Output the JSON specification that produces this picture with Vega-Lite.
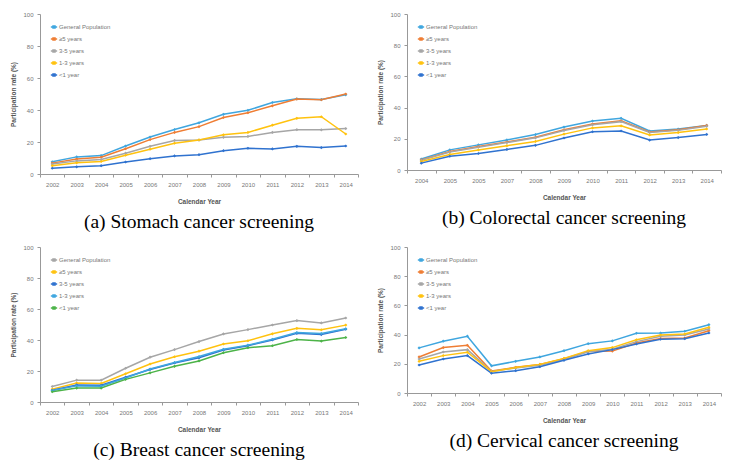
{
  "$schema": "https://vega.github.io/schema/vega-lite/v6.json",
  "background": "white",
  "padding": {"left": 10, "top": 11, "right": 8, "bottom": 4},
  "spacing": 13,
  "config": {
    "font": "Liberation Sans",
    "view": {"stroke": null},
    "concat": {"spacing": 18},
    "axis": {
      "labelFont": "Liberation Sans", "labelFontSize": 6, "labelColor": "#777777",
      "titleFont": "Liberation Sans", "titleFontSize": 6.5, "titleColor": "#555555", "titleFontWeight": "bold",
      "domainColor": "#999999", "tickColor": "#999999", "tickSize": 3, "grid": false, "labelPadding": 4
    },
    "axisX": {"labelAngle": 0, "tickBand": "extent", "titlePadding": 11},
    "axisY": {"titlePadding": 6},
    "legend": {
      "orient": "none", "legendX": 10, "legendY": 9, "title": null,
      "labelFontSize": 6, "labelColor": "#777777", "labelFont": "Liberation Sans",
      "rowPadding": 4, "labelOffset": 1, "symbolOffset": 0
    },
    "title": {"font": "Liberation Serif", "fontSize": 19.5, "fontWeight": "normal", "color": "#000000", "orient": "bottom", "offset": 8}
  },
  "datasets": {
    "stomach": [
      {"year": 2002, "group": "General Population", "rate": 7.6}, {"year": 2003, "group": "General Population", "rate": 10.7}, {"year": 2004, "group": "General Population", "rate": 11.5}, {"year": 2005, "group": "General Population", "rate": 17.5}, {"year": 2006, "group": "General Population", "rate": 23.1}, {"year": 2007, "group": "General Population", "rate": 27.8}, {"year": 2008, "group": "General Population", "rate": 32.0}, {"year": 2009, "group": "General Population", "rate": 37.3}, {"year": 2010, "group": "General Population", "rate": 39.8}, {"year": 2011, "group": "General Population", "rate": 44.7}, {"year": 2012, "group": "General Population", "rate": 47.0}, {"year": 2013, "group": "General Population", "rate": 46.5}, {"year": 2014, "group": "General Population", "rate": 49.5},
      {"year": 2002, "group": "≥5 years", "rate": 6.8}, {"year": 2003, "group": "≥5 years", "rate": 9.3}, {"year": 2004, "group": "≥5 years", "rate": 10.5}, {"year": 2005, "group": "≥5 years", "rate": 15.8}, {"year": 2006, "group": "≥5 years", "rate": 21.5}, {"year": 2007, "group": "≥5 years", "rate": 26.0}, {"year": 2008, "group": "≥5 years", "rate": 29.6}, {"year": 2009, "group": "≥5 years", "rate": 35.3}, {"year": 2010, "group": "≥5 years", "rate": 38.3}, {"year": 2011, "group": "≥5 years", "rate": 42.6}, {"year": 2012, "group": "≥5 years", "rate": 46.8}, {"year": 2013, "group": "≥5 years", "rate": 46.4}, {"year": 2014, "group": "≥5 years", "rate": 50.0},
      {"year": 2002, "group": "3-5 years", "rate": 6.2}, {"year": 2003, "group": "3-5 years", "rate": 8.2}, {"year": 2004, "group": "3-5 years", "rate": 9.0}, {"year": 2005, "group": "3-5 years", "rate": 13.0}, {"year": 2006, "group": "3-5 years", "rate": 17.3}, {"year": 2007, "group": "3-5 years", "rate": 21.0}, {"year": 2008, "group": "3-5 years", "rate": 21.2}, {"year": 2009, "group": "3-5 years", "rate": 22.9}, {"year": 2010, "group": "3-5 years", "rate": 23.5}, {"year": 2011, "group": "3-5 years", "rate": 26.0}, {"year": 2012, "group": "3-5 years", "rate": 27.7}, {"year": 2013, "group": "3-5 years", "rate": 27.6}, {"year": 2014, "group": "3-5 years", "rate": 28.4},
      {"year": 2002, "group": "1-3 years", "rate": 5.2}, {"year": 2003, "group": "1-3 years", "rate": 7.0}, {"year": 2004, "group": "1-3 years", "rate": 7.8}, {"year": 2005, "group": "1-3 years", "rate": 11.7}, {"year": 2006, "group": "1-3 years", "rate": 15.5}, {"year": 2007, "group": "1-3 years", "rate": 19.2}, {"year": 2008, "group": "1-3 years", "rate": 21.3}, {"year": 2009, "group": "1-3 years", "rate": 24.5}, {"year": 2010, "group": "1-3 years", "rate": 26.0}, {"year": 2011, "group": "1-3 years", "rate": 30.5}, {"year": 2012, "group": "1-3 years", "rate": 34.8}, {"year": 2013, "group": "1-3 years", "rate": 35.8}, {"year": 2014, "group": "1-3 years", "rate": 25.0},
      {"year": 2002, "group": "<1 year", "rate": 3.6}, {"year": 2003, "group": "<1 year", "rate": 4.5}, {"year": 2004, "group": "<1 year", "rate": 5.2}, {"year": 2005, "group": "<1 year", "rate": 7.5}, {"year": 2006, "group": "<1 year", "rate": 9.6}, {"year": 2007, "group": "<1 year", "rate": 11.3}, {"year": 2008, "group": "<1 year", "rate": 12.1}, {"year": 2009, "group": "<1 year", "rate": 14.6}, {"year": 2010, "group": "<1 year", "rate": 16.1}, {"year": 2011, "group": "<1 year", "rate": 15.7}, {"year": 2012, "group": "<1 year", "rate": 17.3}, {"year": 2013, "group": "<1 year", "rate": 16.5}, {"year": 2014, "group": "<1 year", "rate": 17.5}
    ],
    "colorectal": [
      {"year": 2004, "group": "General Population", "rate": 7.0}, {"year": 2005, "group": "General Population", "rate": 12.9}, {"year": 2006, "group": "General Population", "rate": 16.1}, {"year": 2007, "group": "General Population", "rate": 19.3}, {"year": 2008, "group": "General Population", "rate": 22.7}, {"year": 2009, "group": "General Population", "rate": 27.5}, {"year": 2010, "group": "General Population", "rate": 31.4}, {"year": 2011, "group": "General Population", "rate": 33.1}, {"year": 2012, "group": "General Population", "rate": 25.0}, {"year": 2013, "group": "General Population", "rate": 26.3}, {"year": 2014, "group": "General Population", "rate": 28.6},
      {"year": 2004, "group": "≥5 years", "rate": 6.5}, {"year": 2005, "group": "≥5 years", "rate": 11.9}, {"year": 2006, "group": "≥5 years", "rate": 15.0}, {"year": 2007, "group": "≥5 years", "rate": 18.0}, {"year": 2008, "group": "≥5 years", "rate": 21.0}, {"year": 2009, "group": "≥5 years", "rate": 25.8}, {"year": 2010, "group": "≥5 years", "rate": 29.5}, {"year": 2011, "group": "≥5 years", "rate": 31.5}, {"year": 2012, "group": "≥5 years", "rate": 24.4}, {"year": 2013, "group": "≥5 years", "rate": 25.8}, {"year": 2014, "group": "≥5 years", "rate": 28.6},
      {"year": 2004, "group": "3-5 years", "rate": 6.2}, {"year": 2005, "group": "3-5 years", "rate": 11.5}, {"year": 2006, "group": "3-5 years", "rate": 14.6}, {"year": 2007, "group": "3-5 years", "rate": 17.6}, {"year": 2008, "group": "3-5 years", "rate": 20.6}, {"year": 2009, "group": "3-5 years", "rate": 25.3}, {"year": 2010, "group": "3-5 years", "rate": 29.0}, {"year": 2011, "group": "3-5 years", "rate": 31.0}, {"year": 2012, "group": "3-5 years", "rate": 24.1}, {"year": 2013, "group": "3-5 years", "rate": 25.4}, {"year": 2014, "group": "3-5 years", "rate": 28.0},
      {"year": 2004, "group": "1-3 years", "rate": 5.5}, {"year": 2005, "group": "1-3 years", "rate": 10.0}, {"year": 2006, "group": "1-3 years", "rate": 12.8}, {"year": 2007, "group": "1-3 years", "rate": 15.6}, {"year": 2008, "group": "1-3 years", "rate": 18.3}, {"year": 2009, "group": "1-3 years", "rate": 23.0}, {"year": 2010, "group": "1-3 years", "rate": 27.0}, {"year": 2011, "group": "1-3 years", "rate": 28.3}, {"year": 2012, "group": "1-3 years", "rate": 22.5}, {"year": 2013, "group": "1-3 years", "rate": 24.0}, {"year": 2014, "group": "1-3 years", "rate": 26.3},
      {"year": 2004, "group": "<1 year", "rate": 4.4}, {"year": 2005, "group": "<1 year", "rate": 8.8}, {"year": 2006, "group": "<1 year", "rate": 10.6}, {"year": 2007, "group": "<1 year", "rate": 13.2}, {"year": 2008, "group": "<1 year", "rate": 15.8}, {"year": 2009, "group": "<1 year", "rate": 20.5}, {"year": 2010, "group": "<1 year", "rate": 24.5}, {"year": 2011, "group": "<1 year", "rate": 25.0}, {"year": 2012, "group": "<1 year", "rate": 19.2}, {"year": 2013, "group": "<1 year", "rate": 20.8}, {"year": 2014, "group": "<1 year", "rate": 22.8}
    ],
    "breast": [
      {"year": 2002, "group": "General Population", "rate": 10.0}, {"year": 2003, "group": "General Population", "rate": 14.1}, {"year": 2004, "group": "General Population", "rate": 14.1}, {"year": 2005, "group": "General Population", "rate": 21.8}, {"year": 2006, "group": "General Population", "rate": 28.9}, {"year": 2007, "group": "General Population", "rate": 33.8}, {"year": 2008, "group": "General Population", "rate": 39.0}, {"year": 2009, "group": "General Population", "rate": 43.9}, {"year": 2010, "group": "General Population", "rate": 46.7}, {"year": 2011, "group": "General Population", "rate": 49.7}, {"year": 2012, "group": "General Population", "rate": 52.5}, {"year": 2013, "group": "General Population", "rate": 51.0}, {"year": 2014, "group": "General Population", "rate": 54.2},
      {"year": 2002, "group": "≥5 years", "rate": 8.3}, {"year": 2003, "group": "≥5 years", "rate": 12.2}, {"year": 2004, "group": "≥5 years", "rate": 12.0}, {"year": 2005, "group": "≥5 years", "rate": 18.2}, {"year": 2006, "group": "≥5 years", "rate": 24.5}, {"year": 2007, "group": "≥5 years", "rate": 29.2}, {"year": 2008, "group": "≥5 years", "rate": 32.8}, {"year": 2009, "group": "≥5 years", "rate": 37.4}, {"year": 2010, "group": "≥5 years", "rate": 39.5}, {"year": 2011, "group": "≥5 years", "rate": 44.0}, {"year": 2012, "group": "≥5 years", "rate": 47.5}, {"year": 2013, "group": "≥5 years", "rate": 46.6}, {"year": 2014, "group": "≥5 years", "rate": 49.6},
      {"year": 2002, "group": "3-5 years", "rate": 7.6}, {"year": 2003, "group": "3-5 years", "rate": 11.0}, {"year": 2004, "group": "3-5 years", "rate": 10.8}, {"year": 2005, "group": "3-5 years", "rate": 16.0}, {"year": 2006, "group": "3-5 years", "rate": 21.0}, {"year": 2007, "group": "3-5 years", "rate": 25.2}, {"year": 2008, "group": "3-5 years", "rate": 28.5}, {"year": 2009, "group": "3-5 years", "rate": 33.5}, {"year": 2010, "group": "3-5 years", "rate": 36.3}, {"year": 2011, "group": "3-5 years", "rate": 40.0}, {"year": 2012, "group": "3-5 years", "rate": 44.3}, {"year": 2013, "group": "3-5 years", "rate": 43.5}, {"year": 2014, "group": "3-5 years", "rate": 47.0},
      {"year": 2002, "group": "1-3 years", "rate": 7.4}, {"year": 2003, "group": "1-3 years", "rate": 10.4}, {"year": 2004, "group": "1-3 years", "rate": 10.2}, {"year": 2005, "group": "1-3 years", "rate": 15.5}, {"year": 2006, "group": "1-3 years", "rate": 21.3}, {"year": 2007, "group": "1-3 years", "rate": 25.5}, {"year": 2008, "group": "1-3 years", "rate": 29.3}, {"year": 2009, "group": "1-3 years", "rate": 34.0}, {"year": 2010, "group": "1-3 years", "rate": 36.7}, {"year": 2011, "group": "1-3 years", "rate": 40.5}, {"year": 2012, "group": "1-3 years", "rate": 44.8}, {"year": 2013, "group": "1-3 years", "rate": 44.2}, {"year": 2014, "group": "1-3 years", "rate": 47.2},
      {"year": 2002, "group": "<1 year", "rate": 6.6}, {"year": 2003, "group": "<1 year", "rate": 9.0}, {"year": 2004, "group": "<1 year", "rate": 9.0}, {"year": 2005, "group": "<1 year", "rate": 14.6}, {"year": 2006, "group": "<1 year", "rate": 18.8}, {"year": 2007, "group": "<1 year", "rate": 23.0}, {"year": 2008, "group": "<1 year", "rate": 26.5}, {"year": 2009, "group": "<1 year", "rate": 31.8}, {"year": 2010, "group": "<1 year", "rate": 35.0}, {"year": 2011, "group": "<1 year", "rate": 36.3}, {"year": 2012, "group": "<1 year", "rate": 40.3}, {"year": 2013, "group": "<1 year", "rate": 39.3}, {"year": 2014, "group": "<1 year", "rate": 41.6}
    ],
    "cervical": [
      {"year": 2002, "group": "General Population", "rate": 30.9}, {"year": 2003, "group": "General Population", "rate": 35.5}, {"year": 2004, "group": "General Population", "rate": 38.9}, {"year": 2005, "group": "General Population", "rate": 18.6}, {"year": 2006, "group": "General Population", "rate": 21.7}, {"year": 2007, "group": "General Population", "rate": 24.7}, {"year": 2008, "group": "General Population", "rate": 29.0}, {"year": 2009, "group": "General Population", "rate": 33.8}, {"year": 2010, "group": "General Population", "rate": 35.7}, {"year": 2011, "group": "General Population", "rate": 40.9}, {"year": 2012, "group": "General Population", "rate": 41.1}, {"year": 2013, "group": "General Population", "rate": 42.3}, {"year": 2014, "group": "General Population", "rate": 46.8},
      {"year": 2002, "group": "≥5 years", "rate": 24.7}, {"year": 2003, "group": "≥5 years", "rate": 31.1}, {"year": 2004, "group": "≥5 years", "rate": 32.7}, {"year": 2005, "group": "≥5 years", "rate": 15.1}, {"year": 2006, "group": "≥5 years", "rate": 17.6}, {"year": 2007, "group": "≥5 years", "rate": 19.6}, {"year": 2008, "group": "≥5 years", "rate": 23.5}, {"year": 2009, "group": "≥5 years", "rate": 28.5}, {"year": 2010, "group": "≥5 years", "rate": 28.7}, {"year": 2011, "group": "≥5 years", "rate": 34.2}, {"year": 2012, "group": "≥5 years", "rate": 37.4}, {"year": 2013, "group": "≥5 years", "rate": 37.7}, {"year": 2014, "group": "≥5 years", "rate": 42.7},
      {"year": 2002, "group": "3-5 years", "rate": 23.3}, {"year": 2003, "group": "3-5 years", "rate": 28.1}, {"year": 2004, "group": "3-5 years", "rate": 29.7}, {"year": 2005, "group": "3-5 years", "rate": 14.8}, {"year": 2006, "group": "3-5 years", "rate": 17.1}, {"year": 2007, "group": "3-5 years", "rate": 19.0}, {"year": 2008, "group": "3-5 years", "rate": 23.0}, {"year": 2009, "group": "3-5 years", "rate": 28.3}, {"year": 2010, "group": "3-5 years", "rate": 30.0}, {"year": 2011, "group": "3-5 years", "rate": 35.2}, {"year": 2012, "group": "3-5 years", "rate": 38.9}, {"year": 2013, "group": "3-5 years", "rate": 39.8}, {"year": 2014, "group": "3-5 years", "rate": 43.9},
      {"year": 2002, "group": "1-3 years", "rate": 21.7}, {"year": 2003, "group": "1-3 years", "rate": 25.6}, {"year": 2004, "group": "1-3 years", "rate": 27.9}, {"year": 2005, "group": "1-3 years", "rate": 14.6}, {"year": 2006, "group": "1-3 years", "rate": 17.4}, {"year": 2007, "group": "1-3 years", "rate": 19.6}, {"year": 2008, "group": "1-3 years", "rate": 23.7}, {"year": 2009, "group": "1-3 years", "rate": 29.0}, {"year": 2010, "group": "1-3 years", "rate": 31.1}, {"year": 2011, "group": "1-3 years", "rate": 36.5}, {"year": 2012, "group": "1-3 years", "rate": 39.7}, {"year": 2013, "group": "1-3 years", "rate": 40.4}, {"year": 2014, "group": "1-3 years", "rate": 45.0},
      {"year": 2002, "group": "<1 year", "rate": 19.2}, {"year": 2003, "group": "<1 year", "rate": 23.3}, {"year": 2004, "group": "<1 year", "rate": 25.6}, {"year": 2005, "group": "<1 year", "rate": 13.5}, {"year": 2006, "group": "<1 year", "rate": 15.3}, {"year": 2007, "group": "<1 year", "rate": 18.0}, {"year": 2008, "group": "<1 year", "rate": 22.4}, {"year": 2009, "group": "<1 year", "rate": 26.7}, {"year": 2010, "group": "<1 year", "rate": 29.7}, {"year": 2011, "group": "<1 year", "rate": 33.6}, {"year": 2012, "group": "<1 year", "rate": 36.8}, {"year": 2013, "group": "<1 year", "rate": 37.2}, {"year": 2014, "group": "<1 year", "rate": 41.1}
    ]
  },
  "resolve": {"scale": {"color": "independent", "x": "independent", "y": "independent"}, "legend": {"color": "independent"}},
  "vconcat": [
    {
      "hconcat": [
        {
          "title": "(a) Stomach cancer screening",
          "width": 318, "height": 160,
          "data": {"name": "stomach"},
          "mark": {"type": "line", "strokeWidth": 1.5, "point": {"shape": "diamond", "size": 10, "filled": true}},
          "encoding": {
            "x": {"field": "year", "type": "ordinal", "scale": {"type": "band", "paddingInner": 0, "paddingOuter": 0}, "title": "Calendar Year"},
            "y": {"field": "rate", "type": "quantitative", "scale": {"domain": [0, 100]}, "axis": {"values": [0, 20, 40, 60, 80, 100]}, "title": "Participation rate (%)"},
            "color": {"field": "group", "type": "nominal", "sort": null, "legend": {"symbolType": "M-1,0H1M-0.35,-0.35H0.35V0.35H-0.35Z", "symbolSize": 40, "symbolStrokeWidth": 1.3}, "scale": {"domain": ["General Population", "≥5 years", "3-5 years", "1-3 years", "<1 year"], "range": ["#3fa6df", "#ef7d33", "#a6a6a6", "#ffc20e", "#2f72cf"]}}
          }
        },
        {
          "title": "(b) Colorectal cancer screening",
          "width": 314, "height": 156,
          "data": {"name": "colorectal"},
          "mark": {"type": "line", "strokeWidth": 1.5, "point": {"shape": "diamond", "size": 10, "filled": true}},
          "encoding": {
            "x": {"field": "year", "type": "ordinal", "scale": {"type": "band", "paddingInner": 0, "paddingOuter": 0}, "title": "Calendar Year", "axis": {"labelExpr": "datum.label == '2006' ? '2005' : datum.label"}},
            "y": {"field": "rate", "type": "quantitative", "scale": {"domain": [0, 100]}, "axis": {"values": [0, 20, 40, 60, 80, 100]}, "title": "Participation rate (%)"},
            "color": {"field": "group", "type": "nominal", "sort": null, "legend": {"symbolType": "M-1,0H1M-0.35,-0.35H0.35V0.35H-0.35Z", "symbolSize": 40, "symbolStrokeWidth": 1.3}, "scale": {"domain": ["General Population", "≥5 years", "3-5 years", "1-3 years", "<1 year"], "range": ["#3fa6df", "#ef7d33", "#a6a6a6", "#ffc20e", "#2f72cf"]}}
          }
        }
      ],
      "resolve": {"scale": {"color": "independent"}, "legend": {"color": "independent"}}
    },
    {
      "hconcat": [
        {
          "title": "(c) Breast cancer screening",
          "width": 318, "height": 155,
          "data": {"name": "breast"},
          "mark": {"type": "line", "strokeWidth": 1.5, "point": {"shape": "diamond", "size": 10, "filled": true}},
          "encoding": {
            "x": {"field": "year", "type": "ordinal", "scale": {"type": "band", "paddingInner": 0, "paddingOuter": 0}, "title": "Calendar Year"},
            "y": {"field": "rate", "type": "quantitative", "scale": {"domain": [0, 100]}, "axis": {"values": [0, 20, 40, 60, 80, 100]}, "title": "Participation rate (%)"},
            "color": {"field": "group", "type": "nominal", "sort": null, "legend": {"symbolType": "M-1,0H1M-0.35,-0.35H0.35V0.35H-0.35Z", "symbolSize": 40, "symbolStrokeWidth": 1.3}, "scale": {"domain": ["General Population", "≥5 years", "3-5 years", "1-3 years", "<1 year"], "range": ["#a6a6a6", "#ffc20e", "#2f72cf", "#3fa6df", "#4cb348"]}}
          }
        },
        {
          "title": "(d) Cervical cancer screening",
          "width": 314, "height": 146,
          "data": {"name": "cervical"},
          "mark": {"type": "line", "strokeWidth": 1.5, "point": {"shape": "diamond", "size": 10, "filled": true}},
          "encoding": {
            "x": {"field": "year", "type": "ordinal", "scale": {"type": "band", "paddingInner": 0, "paddingOuter": 0}, "title": "Calendar Year"},
            "y": {"field": "rate", "type": "quantitative", "scale": {"domain": [0, 100]}, "axis": {"values": [0, 20, 40, 60, 80, 100]}, "title": "Participation rate (%)"},
            "color": {"field": "group", "type": "nominal", "sort": null, "legend": {"symbolType": "M-1,0H1M-0.35,-0.35H0.35V0.35H-0.35Z", "symbolSize": 40, "symbolStrokeWidth": 1.3}, "scale": {"domain": ["General Population", "≥5 years", "3-5 years", "1-3 years", "<1 year"], "range": ["#3fa6df", "#ef7d33", "#a6a6a6", "#ffc20e", "#2f72cf"]}}
          }
        }
      ],
      "resolve": {"scale": {"color": "independent"}, "legend": {"color": "independent"}}
    }
  ]
}
